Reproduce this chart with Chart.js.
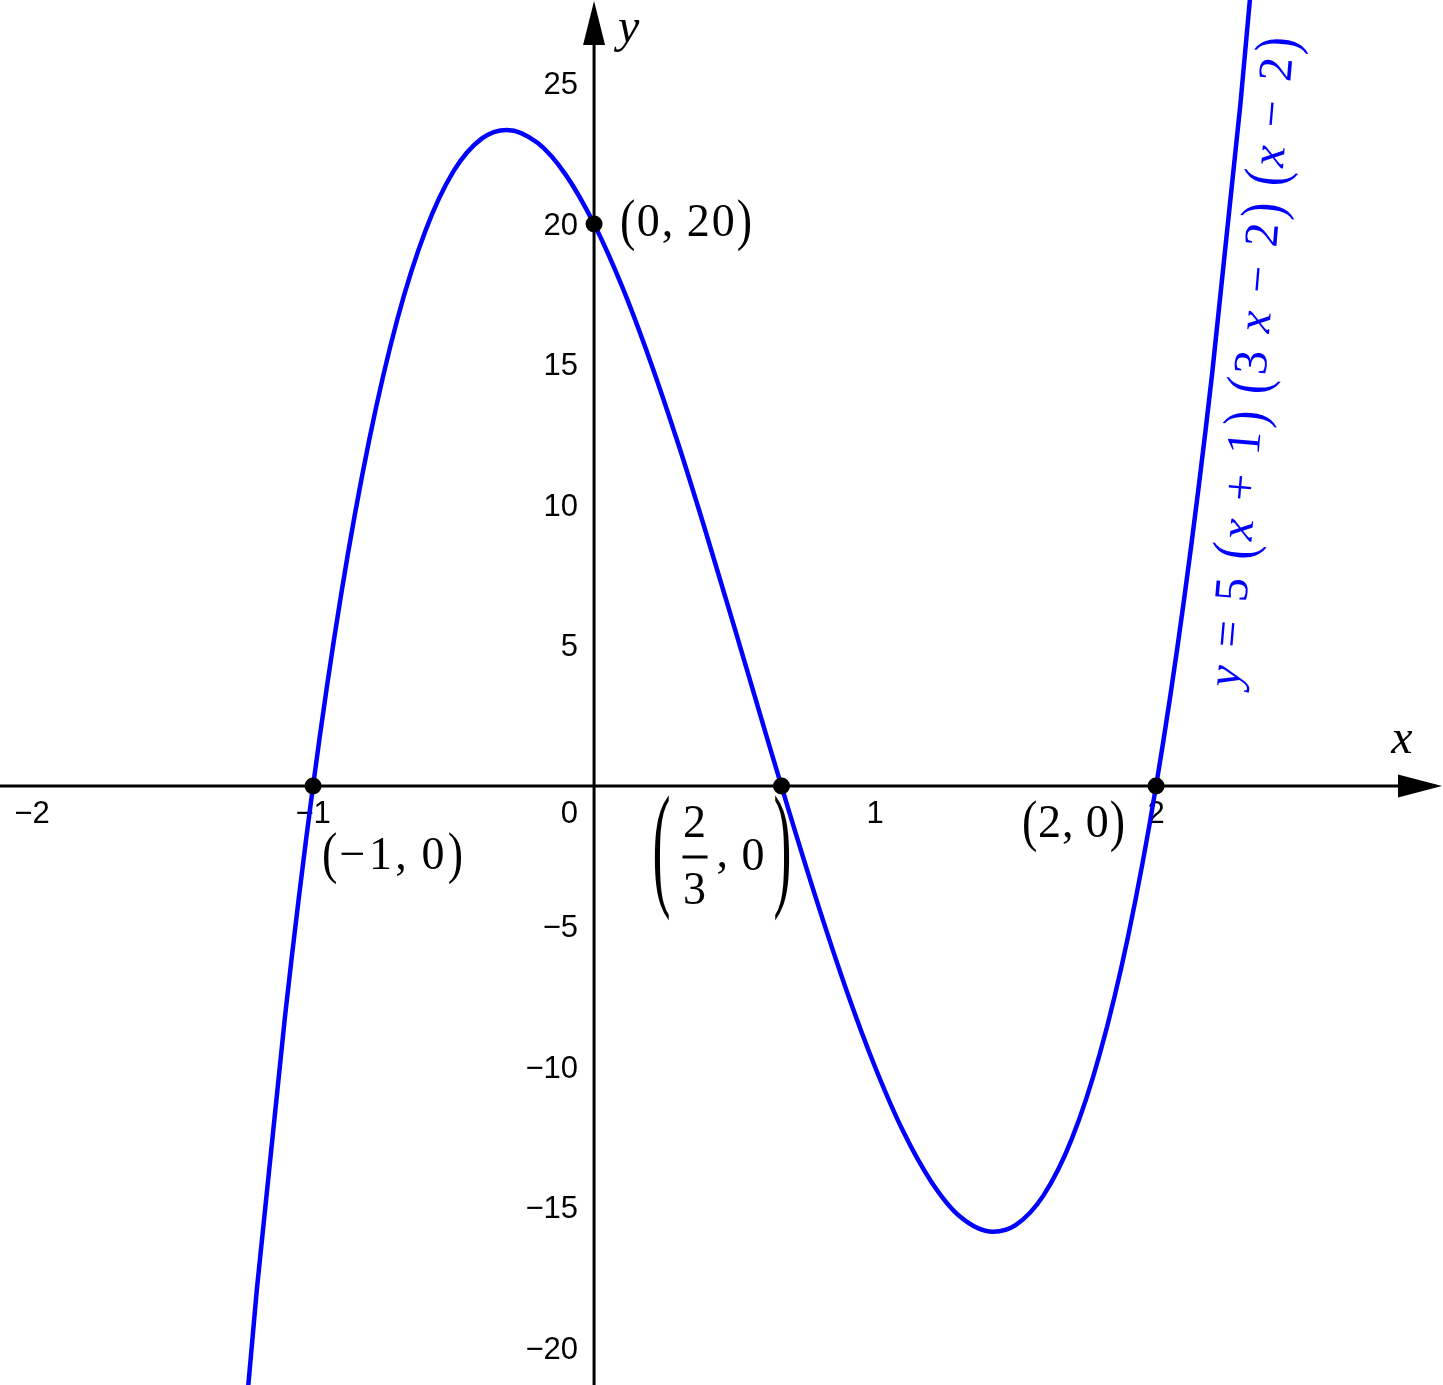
<!DOCTYPE html>
<html lang="en">
<head>
<meta charset="UTF-8">
<title>y = 5(x+1)(3x-2)(x-2)</title>
<script src="https://cdn.jsdelivr.net/npm/chart.js"></script>
<style>
  html, body { margin: 0; padding: 0; background: #fff; overflow: hidden; }
  canvas { display: block; }
</style>
</head>
<body>
<canvas id="plot" width="1443" height="1385"></canvas>
<script>
// curve samples
var curveX = [-1.3, -1.2, -1.1, -1.0, -0.9, -0.8, -0.7, -0.6, -0.5, -0.4, -0.31, -0.2, -0.1, 0,
  0.1, 0.2, 0.3, 0.4, 0.5, 0.6, 0.7, 0.8, 0.9, 1.0, 1.1, 1.2, 1.3, 1.42, 1.5, 1.6, 1.7, 1.8,
  1.9, 2.0, 2.1, 2.2, 2.3, 2.4];
var curveY = [-29.2, -17.92, -8.22, 0, 6.82, 12.32, 16.61, 19.76, 21.88, 23.04, 23.35, 22.88, 21.74, 20,
  17.77, 15.12, 12.16, 8.96, 5.63, 2.24, -1.11, -4.32, -7.32, -10, -12.29, -14.08, -15.3, -15.86, -15.63, -14.56, -12.56, -9.52,
  -5.37, 0, 6.67, 14.72, 24.26, 35.36];

// marked points
var dotX = [-1, 0, 0.667, 2];
var dotY = [0, 20, 0, 0];

// tick labels
var xTicks = [-2, -1, 1, 2];
var yTicks = [25, 20, 15, 10, 5, -5, -10, -15, -20];

// visible window
var xRange = [-2.114, 3.021];
var yRange = [-21.317, 27.972];

function fmt(v) {
  return v < 0 ? '\u2212' + (-v) : '' + v;
}

function mathFont(size, italic) {
  return (italic ? 'italic ' : '') + size + 'px "Liberation Serif", serif';
}

// draw runs of math text, spread to a given width
function drawMath(ctx, runs, x, y, size, width) {
  var chars = [];
  var pos = 0;
  runs.forEach(function (r) {
    ctx.font = mathFont(size, r[1]);
    for (var i = 0; i < r[0].length; i++) {
      var w = ctx.measureText(r[0][i]).width;
      chars.push({ c: r[0][i], it: r[1], x: pos, w: w });
      pos += w;
    }
  });
  var last = chars[chars.length - 1];
  var k = width ? (width - last.w) / (pos - last.w) : 1;
  ctx.textAlign = 'left';
  ctx.textBaseline = 'alphabetic';
  chars.forEach(function (ch) {
    if (ch.c === ' ') return;
    ctx.font = mathFont(size, ch.it);
    var cx = x + ch.x * k;
    if (ch.c === '(' || ch.c === ')') {
      ctx.save();
      ctx.translate(cx, y - 0.25 * size);
      ctx.scale(1, 1.25);
      ctx.fillText(ch.c, 0, 0.25 * size);
      ctx.restore();
    } else {
      ctx.fillText(ch.c, cx, y);
    }
  });
}

function bigParen(ctx, c, x, cy, size, stretch) {
  ctx.save();
  ctx.font = mathFont(size, false);
  ctx.textAlign = 'left';
  ctx.textBaseline = 'alphabetic';
  ctx.translate(x, cy);
  ctx.scale(1, stretch);
  ctx.fillText(c, 0, 0.25 * size);
  ctx.restore();
}

var axesPlugin = {
  id: 'axes',
  beforeDatasetsDraw: function (chart) {
    var ctx = chart.ctx, xs = chart.scales.x, ys = chart.scales.y, a = chart.chartArea;
    var ox = xs.getPixelForValue(0), oy = ys.getPixelForValue(0);
    ctx.save();
    ctx.strokeStyle = '#000';
    ctx.fillStyle = '#000';
    ctx.lineWidth = 3;
    ctx.beginPath();
    ctx.moveTo(a.left, oy);
    ctx.lineTo(a.right - 40, oy);
    ctx.moveTo(ox, a.bottom);
    ctx.lineTo(ox, a.top + 40);
    ctx.stroke();

    // arrow heads
    ctx.beginPath();
    ctx.moveTo(a.right - 1, oy);
    ctx.lineTo(a.right - 45, oy - 11.5);
    ctx.lineTo(a.right - 45, oy + 11.5);
    ctx.closePath();
    ctx.moveTo(ox, a.top + 1);
    ctx.lineTo(ox - 11, a.top + 45);
    ctx.lineTo(ox + 11, a.top + 45);
    ctx.closePath();
    ctx.fill();

    // tick labels
    ctx.font = '31px "Liberation Sans", Arial, sans-serif';
    ctx.textBaseline = 'middle';
    ctx.textAlign = 'center';
    xTicks.forEach(function (v) {
      ctx.fillText(fmt(v), xs.getPixelForValue(v), oy + 28);
    });
    ctx.textAlign = 'right';
    ctx.fillText('0', ox - 16, oy + 28);
    yTicks.forEach(function (v) {
      ctx.fillText(fmt(v), ox - 16, ys.getPixelForValue(v) + 2);
    });

    // axis names
    ctx.font = mathFont(48, true);
    ctx.textBaseline = 'alphabetic';
    ctx.textAlign = 'center';
    ctx.fillText('x', a.right - 41, oy - 33);
    ctx.textAlign = 'left';
    ctx.fillText('y', ox + 24, a.top + 42);
    ctx.restore();
  },
  afterDatasetsDraw: function (chart) {
    var ctx = chart.ctx, xs = chart.scales.x, ys = chart.scales.y, a = chart.chartArea;
    ctx.save();
    ctx.fillStyle = '#000';

    var p = [xs.getPixelForValue(0), ys.getPixelForValue(20)];
    drawMath(ctx, [['(0, 20)', false]], p[0] + 26, p[1] + 12, 46, 132);

    p = [xs.getPixelForValue(-1), ys.getPixelForValue(0)];
    drawMath(ctx, [['(\u22121, 0)', false]], p[0] + 9, p[1] + 83, 46, 141);

    p = [xs.getPixelForValue(2), ys.getPixelForValue(0)];
    drawMath(ctx, [['(2, 0)', false]], p[0] - 134, p[1] + 51, 46, 103);

    // (2/3, 0) with a stacked fraction
    p = [xs.getPixelForValue(0.667), ys.getPixelForValue(0)];
    var fx = p[0] - 87, cy = p[1] + 71;
    bigParen(ctx, '(', p[0] - 129, cy, 54, 2.55);
    bigParen(ctx, ')', p[0] - 8, cy, 54, 2.55);
    ctx.font = mathFont(46, false);
    ctx.textAlign = 'center';
    ctx.textBaseline = 'alphabetic';
    ctx.fillText('2', fx, cy - 20);
    ctx.fillText('3', fx, cy + 47);
    ctx.fillRect(fx - 12, cy - 1.5, 25, 3);
    ctx.textAlign = 'left';
    ctx.fillText(',', fx + 22, cy + 10);
    ctx.fillText('0', fx + 47, cy + 13);

    // rotated formula
    ctx.fillStyle = '#0000ff';
    ctx.translate(a.left + 1239, a.top + 688);
    ctx.rotate(-85.17 * Math.PI / 180);
    drawMath(ctx, [['y', true], [' = 5 (', false], ['x', true], [' + 1) (3 ', false], ['x', true],
      [' \u2212 2) (', false], ['x', true], [' \u2212 2)', false]], 0, 0, 48, 652);
    ctx.restore();
  }
};

var curvePts = curveX.map(function (x, i) { return { x: x, y: curveY[i] }; });
var dotPts = dotX.map(function (x, i) { return { x: x, y: dotY[i] }; });

new Chart(document.getElementById('plot'), {
  type: 'scatter',
  data: {
    datasets: [
      {
        data: dotPts,
        pointRadius: 8.5,
        pointBackgroundColor: '#000',
        pointBorderWidth: 0,
        showLine: false
      },
      {
        data: curvePts,
        showLine: true,
        borderColor: '#0000ff',
        borderWidth: 4.5,
        pointRadius: 0,
        fill: false,
        cubicInterpolationMode: 'monotone'
      }
    ]
  },
  options: {
    responsive: false,
    animation: false,
    layout: { padding: 0, autoPadding: false },
    plugins: { legend: { display: false }, tooltip: { enabled: false } },
    scales: {
      x: { type: 'linear', min: xRange[0], max: xRange[1], display: false },
      y: { type: 'linear', min: yRange[0], max: yRange[1], display: false }
    }
  },
  plugins: [axesPlugin]
});
</script>
</body>
</html>
